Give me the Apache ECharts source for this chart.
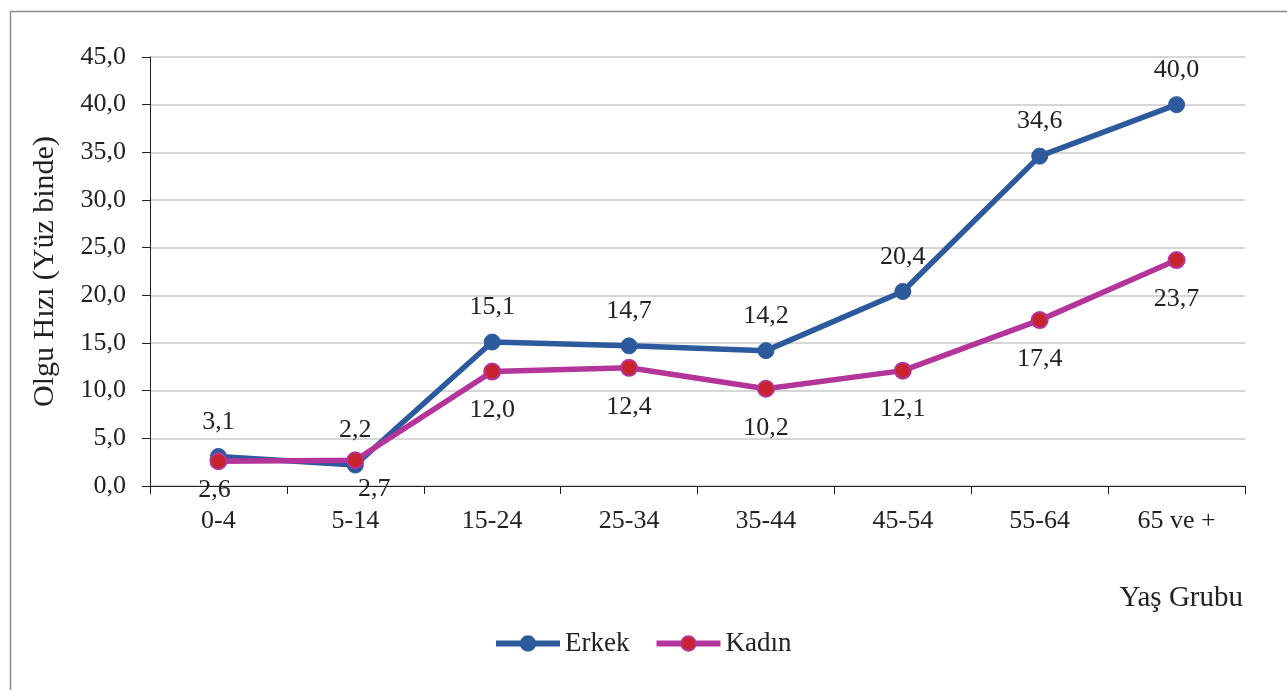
<!DOCTYPE html>
<html><head><meta charset="utf-8">
<script src="https://cdn.jsdelivr.net/npm/echarts@6/dist/echarts.min.js"></script>
<style>html,body{margin:0;padding:0;background:#fff}#c{width:1287px;height:690px}</style>
</head><body><div id="c"></div>
<script>
var categories = ['0-4','5-14','15-24','25-34','35-44','45-54','55-64','65 ve +'];
var erkek = [3.1, 2.2, 15.1, 14.7, 14.2, 20.4, 34.6, 40.0];
var kadin = [2.6, 2.7, 12.0, 12.4, 10.2, 12.1, 17.4, 23.7];
var yTicks = [0,5,10,15,20,25,30,35,40,45];

var F = '"Liberation Serif","Times New Roman",serif';
var fmt = function(v){ return Number(v).toFixed(1).replace('.', ','); };
// label nudges for the two crowded low points (as in the original)
var kadinLabelOffsets = {0:[-4,-10], 1:[19,-10]};
var kadinData = kadin.map(function(v,i){
  var o = {value:v};
  if (kadinLabelOffsets[i]) o.label = {offset:kadinLabelOffsets[i]};
  return o;
});
var chart = echarts.init(document.getElementById('c'));
chart.setOption({
  animation:false,
  backgroundColor:'#fff',
  textStyle:{fontFamily:F},
  graphic:[{type:'rect', shape:{x:10.5,y:11.5,width:1290,height:700}, style:{fill:'none',stroke:'#8a8a8a',lineWidth:1.5}, silent:true}],
  title:{text:'Yaş Grubu', right:44, top:584, padding:0, textStyle:{fontFamily:F,fontSize:29,fontWeight:'normal',color:'#222'}},
  legend:{data:['Erkek','Kadın'], left:488, top:625, itemWidth:64, itemHeight:18, itemGap:24,
    lineStyle:{width:6},
    textStyle:{fontFamily:F,fontSize:27,color:'#222'}},
  grid:{left:150, right:42, top:57, bottom:204},
  xAxis:{type:'category', data:categories, boundaryGap:true,
    axisLine:{lineStyle:{color:'#222',width:1}},
    axisTick:{show:true, alignWithLabel:false, length:8, lineStyle:{color:'#222'}},
    axisLabel:{fontFamily:F,fontSize:26,color:'#222',margin:22}},
  yAxis:{type:'value', min:0, max:45, interval:5,
    name:'Olgu Hızı (Yüz binde)', nameLocation:'middle', nameGap:90, nameRotate:90,
    nameTextStyle:{fontFamily:F,fontSize:30,color:'#222'},
    axisLine:{show:true,lineStyle:{color:'#222',width:1}},
    axisTick:{show:true,length:8,lineStyle:{color:'#222'}},
    splitLine:{lineStyle:{color:'#c8c8c8',width:1.5}},
    axisLabel:{fontFamily:F,fontSize:26,color:'#222',margin:24,formatter:fmt}},
  series:[
    {name:'Erkek', type:'line', data:erkek, symbol:'circle', symbolSize:16,
      lineStyle:{color:'#2c5a9c',width:5.5}, itemStyle:{color:'#2c5a9c',borderColor:'#2c5a9c',borderWidth:1},
      label:{show:true, position:'top', distance:13, formatter:function(p){return fmt(p.value);},
        fontFamily:F,fontSize:26,color:'#222'}, z:2},
    {name:'Kadın', type:'line', data:kadinData, symbol:'circle', symbolSize:16,
      lineStyle:{color:'#b3359a',width:5.5}, itemStyle:{color:'#c8232c',borderColor:'#b3359a',borderWidth:2},
      label:{show:true, position:'bottom', distance:17, formatter:function(p){return fmt(p.value);},
        fontFamily:F,fontSize:26,color:'#222'}, z:3}
  ]
});
</script></body></html>
